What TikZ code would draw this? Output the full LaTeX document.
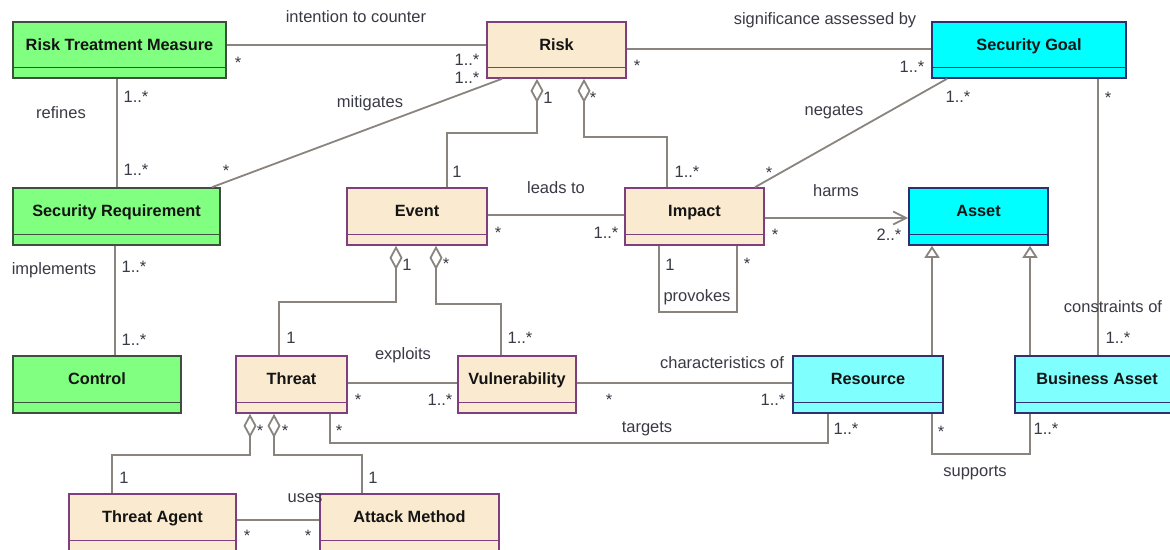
\documentclass[tikz,border=0pt]{standalone}
\usepackage{fontspec}
\setmainfont{Liberation Sans}
\usetikzlibrary{arrows.meta}
\definecolor{gfill}{HTML}{80FF80}
\definecolor{gdraw}{HTML}{3F4F3F}
\definecolor{bfill}{HTML}{FAEBD0}
\definecolor{bdraw}{HTML}{7F3F7F}
\definecolor{cfill}{HTML}{00FFFF}
\definecolor{cdraw}{HTML}{2F2F6F}
\definecolor{lcfill}{HTML}{80FFFF}
\definecolor{lcdraw}{HTML}{30306F}
\definecolor{linec}{HTML}{8A847E}
\definecolor{lbltext}{HTML}{3A3A46}
\definecolor{boxtext}{HTML}{141414}
\tikzset{
  x=1pt, y=-1pt,
  divider/.style={path picture={\draw[draw=#1, line width=1.6pt]
     ([yshift=10.5pt]path picture bounding box.south west) --
     ([yshift=10.5pt]path picture bounding box.south east);}},
  umlbox/.style={rectangle, line width=1.6pt, inner sep=0pt,
     font=\fontsize{16.3}{18}\selectfont\bfseries, text=boxtext,
     text height=10pt, text depth=10pt},
  gbox/.style={umlbox, fill=gfill, draw=gdraw, divider=gdraw},
  bbox/.style={umlbox, fill=bfill, draw=bdraw, divider=bdraw},
  cbox/.style={umlbox, fill=cfill, draw=cdraw, divider=cdraw},
  lcbox/.style={umlbox, fill=lcfill, draw=lcdraw, divider=lcdraw},
  conn/.style={draw=linec, line width=1.8pt},
  aggr/.style={conn, {Diamond[open,length=24pt,width=13pt]}-},
  gen/.style={conn, -{Triangle[open,length=12pt,width=15pt]}},
  nav/.style={conn, -{Straight Barb[length=13pt,width=13pt]}},
  lbl/.style={inner sep=0pt, font=\fontsize{16.5}{19}\selectfont, text=lbltext},
}
\begin{document}
\begin{tikzpicture}
\clip (0,0) rectangle (1170,549);
\useasboundingbox (0,0) rectangle (1170,549);
\fill[white] (0,0) rectangle (1170,549);

% ---- boxes ----
\node[gbox, minimum width=213pt, minimum height=56pt] (rtm) at (119.5,50) {Risk Treatment Measure};
\node[bbox, minimum width=139pt, minimum height=56pt] (risk) at (556.5,50) {Risk};
\node[cbox, minimum width=194pt, minimum height=56pt] (sg) at (1029,50) {Security Goal};
\node[gbox, minimum width=207pt, minimum height=57pt] (sr) at (116.5,216.5) {Security Requirement};
\node[bbox, minimum width=140pt, minimum height=57pt] (event) at (417,216.5) {Event};
\node[bbox, minimum width=139pt, minimum height=57pt] (impact) at (694.5,216.5) {Impact};
\node[cbox, minimum width=139pt, minimum height=57pt] (asset) at (978.5,216.5) {Asset};
\node[gbox, minimum width=168pt, minimum height=57pt] (control) at (97,384.5) {Control};
\node[bbox, minimum width=111pt, minimum height=57pt] (threat) at (291.5,384.5) {Threat};
\node[bbox, minimum width=118pt, minimum height=57pt] (vuln) at (517,384.5) {Vulnerability};
\node[lcbox, minimum width=150pt, minimum height=57pt] (resource) at (868,384.5) {Resource};
\node[lcbox, minimum width=164pt, minimum height=57pt] (ba) at (1097,384.5) {Business Asset};
\node[bbox, minimum width=167pt, minimum height=57pt] (ta) at (152.5,522.5) {Threat Agent};
\node[bbox, minimum width=179pt, minimum height=57pt] (am) at (409.5,522.5) {Attack Method};

% ---- connectors ----
\draw[conn] (rtm.east |- 0,45) -- (risk.west |- 0,45);
\draw[conn] (rtm.south -| 117,0) -- (sr.north -| 117,0);
\draw[conn] (sr.north -| 212,0) -- (risk.south -| 502,0);
\draw[conn] (sr.south -| 115,0) -- (control.north -| 115,0);
\draw[conn] (risk.east |- 0,49) -- (sg.west |- 0,49);
\draw[conn] (sg.south -| 947,0) -- (impact.north -| 755,0);
\draw[conn] (sg.south -| 1098,0) -- (ba.north -| 1098,0);
\draw[aggr] (risk.south -| 537,0) -- ++(0,54) -| (event.north -| 447,0);
\draw[aggr] (risk.south -| 584,0) -- ++(0,58) -| (impact.north -| 667,0);
\draw[conn] (event.east |- 0,215) -- (impact.west |- 0,215);
\draw[conn] (impact.south -| 659,0) -- ++(0,66) -| (impact.south -| 737,0);
\draw[nav] (impact.east |- 0,218) -- (asset.west |- 0,218);
\draw[aggr] (event.south -| 396,0) -- ++(0,56) -| (threat.north -| 279,0);
\draw[aggr] (event.south -| 436,0) -- ++(0,58) -| (vuln.north -| 501,0);
\draw[conn] (threat.east |- 0,383) -- (vuln.west |- 0,383);
\draw[conn] (vuln.east |- 0,383) -- (resource.west |- 0,383);
\draw[conn] (threat.south -| 330,0) -- ++(0,29) -| (resource.south -| 828,0);
\draw[conn] (resource.south -| 932,0) -- ++(0,40) -| (ba.south -| 1030,0);
\draw[gen] (resource.north -| 932,0) -- (asset.south -| 932,0);
\draw[gen] (ba.north -| 1030,0) -- (asset.south -| 1030,0);
\draw[aggr] (threat.south -| 250,0) -- ++(0,41) -| (ta.north -| 112,0);
\draw[aggr] (threat.south -| 274,0) -- ++(0,41) -| (am.north -| 362,0);
\draw[conn] (ta.east |- 0,520) -- (am.west |- 0,520);

% ---- association labels ----
\node[lbl] (l1) at (356,17) {intention to counter};
\node[lbl] (l2) at (825,20) {significance assessed by};
\node[lbl] (l3) at (370,103) {mitigates};
\node[lbl] (l4) at (61,113) {refines};
\node[lbl] (l5) at (54,270) {implements};
\node[lbl] (l6) at (834,112) {negates};
\node[lbl] (l7) at (556,188) {leads to};
\node[lbl] (l8) at (836,191) {harms};
\node[lbl] (l9) at (697,297) {provokes};
\node[lbl] (l10) at (1113,307) {constraints of};
\node[lbl] (l11) at (403,355) {exploits};
\node[lbl] (l12) at (722,363) {characteristics of};
\node[lbl] (l13) at (647,429) {targets};
\node[lbl] (l14) at (975,473) {supports};
\node[lbl] (l15) at (305,498) {uses};

% ---- multiplicities ----
\node[lbl] (m1) at (238,63) {*};
\node[lbl] (m2) at (467,60) {1..*};
\node[lbl] (m3) at (467,78) {1..*};
\node[lbl] (m4) at (637,66) {*};
\node[lbl] (m5) at (912,67) {1..*};
\node[lbl] (m6) at (958,97) {1..*};
\node[lbl] (m7) at (1108,98) {*};
\node[lbl] (m8) at (136,97) {1..*};
\node[lbl] (m9) at (136,170) {1..*};
\node[lbl] (m10) at (226,171) {*};
\node[lbl] (m11) at (548,98) {1};
\node[lbl] (m12) at (593,98) {*};
\node[lbl] (m13) at (457,172) {1};
\node[lbl] (m14) at (687,172) {1..*};
\node[lbl] (m15) at (769,173) {*};
\node[lbl] (m16) at (134,267) {1..*};
\node[lbl] (m17) at (134,340) {1..*};
\node[lbl] (m18) at (498,233) {*};
\node[lbl] (m19) at (606,233) {1..*};
\node[lbl] (m20) at (407,265) {1};
\node[lbl] (m21) at (446,264) {*};
\node[lbl] (m22) at (670,265) {1};
\node[lbl] (m23) at (747,264) {*};
\node[lbl] (m24) at (520,338) {1..*};
\node[lbl] (m25) at (775,235) {*};
\node[lbl] (m26) at (889,235) {2..*};
\node[lbl] (m27) at (1118,338) {1..*};
\node[lbl] (m28) at (291,338) {1};
\node[lbl] (m29) at (358,400) {*};
\node[lbl] (m30) at (440,400) {1..*};
\node[lbl] (m31) at (609,400) {*};
\node[lbl] (m32) at (773,400) {1..*};
\node[lbl] (m33) at (339,431) {*};
\node[lbl] (m34) at (846,429) {1..*};
\node[lbl] (m35) at (941,432) {*};
\node[lbl] (m36) at (1046,429) {1..*};
\node[lbl] (m37) at (260,431) {*};
\node[lbl] (m38) at (285,431) {*};
\node[lbl] (m39) at (124,478) {1};
\node[lbl] (m40) at (373,478) {1};
\node[lbl] (m41) at (247,536) {*};
\node[lbl] (m42) at (308,536) {*};
\end{tikzpicture}
\end{document}
